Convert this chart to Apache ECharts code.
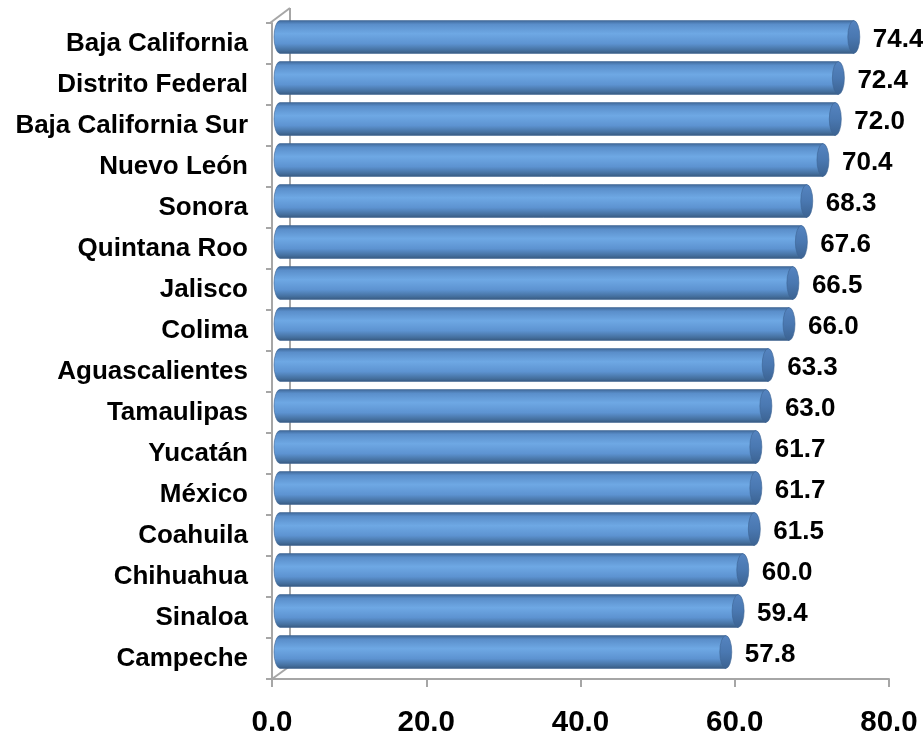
<!DOCTYPE html>
<html>
<head>
<meta charset="utf-8">
<script src="https://cdn.jsdelivr.net/npm/echarts@6/dist/echarts.min.js"></script>
<style>
html, body { margin: 0; padding: 0; background: #fff; }
#main { width: 923px; height: 731px; }
</style>
</head>
<body>
<div id="main"></div>
<script>
var estados = ['Baja California', 'Distrito Federal', 'Baja California Sur', 'Nuevo León', 'Sonora',
    'Quintana Roo', 'Jalisco', 'Colima', 'Aguascalientes', 'Tamaulipas', 'Yucatán', 'México',
    'Coahuila', 'Chihuahua', 'Sinaloa', 'Campeche'];
var valores = [74.4, 72.4, 72.0, 70.4, 68.3, 67.6, 66.5, 66.0, 63.3, 63.0, 61.7, 61.7, 61.5, 60.0, 59.4, 57.8];
var ejeMin = 0, ejeMax = 80, ejeIntervalo = 20;

var FONT = 'Arial, "Liberation Sans", sans-serif';
var GL = 272, GR = 34, GT = 23, GB = 52;
var W = 923, H = 731;
var wallColor = '#a6a6a6';
var depthX = 20, depthY = -14;

var myChart = echarts.init(document.getElementById('main'));

var datos = valores.map(function (v, i) { return [v, i]; });

function renderBar(params, api) {
    var val = api.value(0);
    var idx = api.value(1);
    var p0 = api.coord([0, idx]);
    var p1 = api.coord([val, idx]);
    var band = api.size([0, 1])[1];
    var h = band * 0.8;
    var cy = p0[1] - 6.5;
    var x0 = p0[0] + 8;
    var x1 = p1[0] + 8;
    var top = cy - h / 2, bot = cy + h / 2;
    var rx = 6, ry = h / 2;
    var body = 'M' + x0 + ' ' + top + ' L' + x1 + ' ' + top + ' L' + x1 + ' ' + bot +
        ' L' + x0 + ' ' + bot + ' A' + rx + ' ' + ry + ' 0 0 1 ' + x0 + ' ' + top + ' Z';
    var cap = 'M' + x1 + ' ' + top + ' A' + rx + ' ' + ry + ' 0 0 1 ' + x1 + ' ' + bot +
        ' A' + rx + ' ' + ry + ' 0 0 1 ' + x1 + ' ' + top + ' Z';
    return {
        type: 'group',
        children: [{
            type: 'path',
            shape: { pathData: body },
            style: {
                fill: new echarts.graphic.LinearGradient(0, 0, 0, 1, [
                    { offset: 0, color: '#3f6898' },
                    { offset: 0.12, color: '#5a8eca' },
                    { offset: 0.4, color: '#6ea8e4' },
                    { offset: 0.7, color: '#5d93d1' },
                    { offset: 0.9, color: '#45709f' },
                    { offset: 1, color: '#385a80' }
                ]),
                stroke: '#3d6392',
                lineWidth: 0.6
            }
        }, {
            type: 'path',
            shape: { pathData: cap },
            style: {
                fill: new echarts.graphic.LinearGradient(0, 0, 0, 1, [
                    { offset: 0, color: '#5584c0' },
                    { offset: 0.5, color: '#4a78b1' },
                    { offset: 1, color: '#3b6291' }
                ]),
                stroke: '#3d6392',
                lineWidth: 0.6
            }
        }, {
            type: 'text',
            style: {
                x: x1 + rx + 13,
                y: cy + 2.5,
                text: val.toFixed(1),
                fill: '#000',
                font: 'bold 26px ' + FONT,
                verticalAlign: 'middle',
                align: 'left'
            }
        }]
    };
}

var bx = GL - 2, by = H - GB;
var option = {
    backgroundColor: '#fff',
    animation: false,
    grid: { left: GL, right: GR, top: GT, bottom: GB, outerBoundsMode: 'none', containLabel: false },
    graphic: [
        { type: 'line', shape: { x1: bx, y1: GT, x2: bx + depthX, y2: GT + depthY - 1 }, style: { stroke: wallColor, lineWidth: 2 }, z: 0 },
        { type: 'line', shape: { x1: bx + depthX, y1: GT + depthY - 1, x2: bx + depthX, y2: by + depthY + 1 }, style: { stroke: wallColor, lineWidth: 2 }, z: 0 },
        { type: 'line', shape: { x1: bx + 2, y1: by, x2: bx + depthX, y2: by + depthY + 1 }, style: { stroke: wallColor, lineWidth: 2 }, z: 0 }
    ],
    xAxis: {
        type: 'value',
        min: ejeMin,
        max: ejeMax,
        interval: ejeIntervalo,
        splitLine: { show: false },
        axisLine: { show: true, lineStyle: { color: wallColor, width: 2 } },
        axisTick: { show: true, length: 8, lineStyle: { color: wallColor, width: 2 } },
        axisLabel: {
            color: '#000',
            fontFamily: FONT,
            fontWeight: 'bold',
            fontSize: 29.5,
            margin: 29,
            formatter: function (v) { return v.toFixed(1); }
        }
    },
    yAxis: {
        type: 'category',
        data: estados,
        inverse: true,
        offset: 2,
        axisLine: { show: true, lineStyle: { color: wallColor, width: 2 } },
        axisTick: { show: true, length: 6, lineStyle: { color: wallColor, width: 2 } },
        axisLabel: {
            color: '#000',
            fontFamily: FONT,
            fontWeight: 'bold',
            fontSize: 26,
            margin: 22,
            padding: [3, 0, 0, 0]
        }
    },
    series: [{
        type: 'custom',
        renderItem: renderBar,
        encode: { x: 0, y: 1 },
        data: datos,
        clip: false,
        z: 5
    }]
};

myChart.setOption(option);
</script>
</body>
</html>
